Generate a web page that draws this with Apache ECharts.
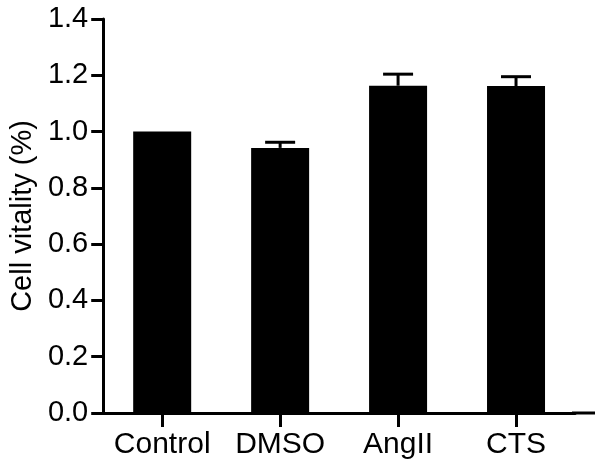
<!DOCTYPE html>
<html>
<head>
<meta charset="utf-8">
<script src="https://cdn.jsdelivr.net/npm/echarts@6/dist/echarts.min.js"></script>
<style>
html,body{margin:0;padding:0;background:#fff;}
#c{width:600px;height:467px;}
</style>
</head>
<body>
<div id="c"></div>
<script>
var categories = ['Control', 'DMSO', 'AngII', 'CTS'];
var means = [1.0, 0.942, 1.163, 1.162];
var errors = [0, 0.02, 0.041, 0.033];
var yTicks = [0.0, 0.2, 0.4, 0.6, 0.8, 1.0, 1.2, 1.4];
var yTitle = 'Cell vitality (%)';

var FONT = '"Liberation Sans", Arial, sans-serif';
var chart = echarts.init(document.getElementById('c'), null, {renderer: 'canvas'});

var option = {
  backgroundColor: '#ffffff',
  animation: false,
  grid: {left: 103, top: 19, width: 472, height: 394, containLabel: false},
  xAxis: {
    type: 'category',
    data: categories,
    boundaryGap: true,
    axisLine: {show: true, lineStyle: {color: '#000', width: 3}},
    axisTick: {show: true, inside: false, alignWithLabel: true, interval: 0, length: 14, lineStyle: {color: '#000', width: 3}},
    axisLabel: {color: '#000', fontFamily: FONT, fontSize: 30, margin: 17, interval: 0, hideOverlap: false},
    splitLine: {show: false}
  },
  yAxis: {
    type: 'value',
    min: yTicks[0],
    max: yTicks[yTicks.length - 1],
    interval: 0.2,
    name: yTitle,
    nameLocation: 'middle',
    nameGap: 64,
    nameRotate: 90,
    nameTextStyle: {color: '#000', fontFamily: FONT, fontSize: 29},
    axisLine: {show: true, lineStyle: {color: '#000', width: 3}},
    axisTick: {show: true, inside: false, length: 12, lineStyle: {color: '#000', width: 3}},
    axisLabel: {color: '#000', fontFamily: FONT, fontSize: 29, margin: 15,
      formatter: function (v) { return v.toFixed(1); }},
    splitLine: {show: false}
  },
  series: [
    {
      type: 'bar',
      data: means,
      barWidth: 58,
      itemStyle: {color: '#000'},
      z: 2
    },
    {
      type: 'custom',
      z: 3,
      data: categories.map(function (c, i) { return [i, means[i], errors[i]]; }),
      renderItem: function (params, api) {
        var i = api.value(0), m = api.value(1), e = api.value(2);
        if (!e) return null;
        var base = api.coord([i, m]);
        var top = api.coord([i, m + e]);
        var hw = 15;
        return {
          type: 'group',
          children: [
            {type: 'line', shape: {x1: base[0], y1: base[1], x2: top[0], y2: top[1]},
              style: {stroke: '#000', lineWidth: 3}},
            {type: 'line', shape: {x1: top[0] - hw, y1: top[1], x2: top[0] + hw, y2: top[1]},
              style: {stroke: '#000', lineWidth: 3}}
          ]
        };
      }
    }
  ]
};
chart.setOption(option);

// extend the x-axis line slightly past the last category as in the original figure
var p0 = chart.convertToPixel({xAxisIndex: 0, yAxisIndex: 0}, [categories.length - 1, 0]);
var gridRight = 103 + 472;
chart.setOption({
  graphic: [{
    type: 'line',
    shape: {x1: gridRight - 3, y1: p0[1], x2: 595, y2: p0[1]},
    style: {stroke: '#000', lineWidth: 3},
    z: 10
  }]
});
</script>
</body>
</html>
